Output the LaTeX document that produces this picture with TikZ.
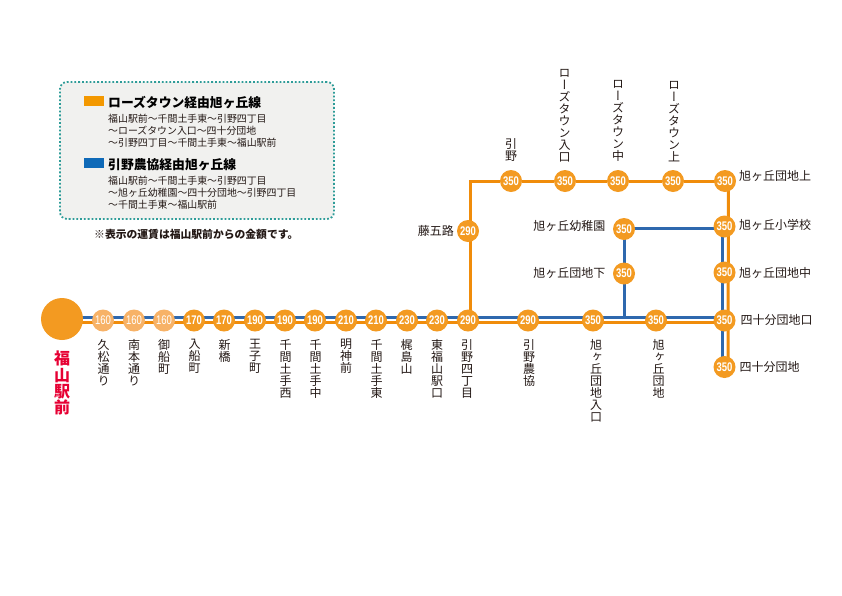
\documentclass[tikz,border=0pt]{standalone}
\usepackage{fontspec}
\usetikzlibrary{backgrounds}
\setmainfont{Noto Sans CJK JP}
\newfontfamily\cjkv[RawFeature=+vert]{Noto Sans CJK JP}
\newfontfamily\numfont[FakeStretch=0.76]{Liberation Sans}
\definecolor{stopor}{HTML}{F39A21}
\definecolor{stoplt}{HTML}{F7B267}
\definecolor{lineor}{HTML}{F08C0A}
\definecolor{lineblue}{HTML}{2E68AE}
\definecolor{legor}{HTML}{F39800}
\definecolor{legblue}{HTML}{0F6AB8}
\definecolor{legbg}{HTML}{F1F1EF}
\definecolor{legedge}{HTML}{2E9C98}
\definecolor{redtxt}{HTML}{E60033}
\definecolor{txt}{HTML}{231815}
\tikzset{
  x=1pt,y=-1pt,
  stop/.style={circle,fill=stopor,minimum size=22pt,inner sep=0pt,text=white,font=\numfont\bfseries\fontsize{12.5}{13}\selectfont},
  stoplight/.style={circle,fill=stoplt,minimum size=22pt,inner sep=0pt,text=white,font=\numfont\fontsize{12.5}{13}\selectfont},
  vlabel/.style={inner sep=0pt,align=center,text=txt,anchor=north,font=\cjkv\fontsize{12}{12}\selectfont},
  vtop/.style={vlabel,anchor=south},
  hlabel/.style={inner sep=0pt,text=txt,font=\fontsize{12}{12}\selectfont},
  orline/.style={draw=lineor,line width=3pt},
  blueline/.style={draw=lineblue,line width=3pt},
  legbody/.style={inner sep=0pt,anchor=west,text=txt,font=\fontsize{9.9}{10}\selectfont},
  legtitle/.style={inner sep=0pt,anchor=west,text=black,font=\bfseries\fontsize{12.8}{13}\selectfont},
}
\begin{document}
\begin{tikzpicture}
\useasboundingbox (0,0) rectangle (842,595);
% legend
\node[draw=legedge,fill=legbg,line width=1.8pt,dotted,rounded corners=7pt,minimum width=274pt,minimum height=137pt,inner sep=0pt] (legend) at (197,150.5) {};
\node[fill=legor,minimum width=20pt,minimum height=10pt,inner sep=0pt] (swor) at (94,101) {};
\node[fill=legblue,minimum width=20pt,minimum height=10pt,inner sep=0pt] (swbl) at (94,163) {};
\node[legtitle] (t1) at (108,103) {ローズタウン経由旭ヶ丘線};
\node[legbody] (a1) at (108,119) {福山駅前〜千間土手東〜引野四丁目};
\node[legbody] (a2) at (108,131) {〜ローズタウン入口〜四十分団地};
\node[legbody] (a3) at (108,143) {〜引野四丁目〜千間土手東〜福山駅前};
\node[legtitle] (t2) at (108,165) {引野農協経由旭ヶ丘線};
\node[legbody] (b1) at (108,180.5) {福山駅前〜千間土手東〜引野四丁目};
\node[legbody] (b2) at (108,192.5) {〜旭ヶ丘幼稚園〜四十分団地〜引野四丁目};
\node[legbody] (b3) at (108,204.5) {〜千間土手東〜福山駅前};
\node[inner sep=0pt,anchor=west,text=txt,font=\bfseries\fontsize{10.8}{11}\selectfont] (note) at (94,234) {※表示の運賃は福山駅前からの金額です。};
% stations
\node[circle,fill=stopor,minimum size=42pt,inner sep=0pt] (fuku) at (62,319) {};
\node[stoplight] (s1) at (103,320.5) {160};
\node[stoplight] (s2) at (134,320.5) {160};
\node[stoplight] (s3) at (164,320.5) {160};
\node[stop] (s4) at (194,320.5) {170};
\node[stop] (s5) at (224,320.5) {170};
\node[stop] (s6) at (255,320.5) {190};
\node[stop] (s7) at (285,320.5) {190};
\node[stop] (s8) at (315,320.5) {190};
\node[stop] (s9) at (346,320.5) {210};
\node[stop] (s10) at (376,320.5) {210};
\node[stop] (s11) at (407,320.5) {230};
\node[stop] (s12) at (437,320.5) {230};
\node[stop] (s13) at (468,320.5) {290};
\node[stop] (s14) at (528,320.5) {290};
\node[stop] (s15) at (593,320.5) {350};
\node[stop] (s16) at (656,320.5) {350};
\node[stop] (s17) at (724.5,320.5) {350};
\node[stop] (s18) at (724.5,367) {350};
\node[stop] (s19) at (724.5,272.5) {350};
\node[stop] (s20) at (724.5,226.5) {350};
\node[stop] (s21) at (725,181) {350};
\node[stop] (s22) at (673,181) {350};
\node[stop] (s23) at (618,181) {350};
\node[stop] (s24) at (565,181) {350};
\node[stop] (s25) at (511,181) {350};
\node[stop] (s26) at (468,231) {290};
\node[stop] (s27) at (624,229) {350};
\node[stop] (s28) at (624,273.5) {350};
\coordinate (corner) at (470,181);
\coordinate (junc) at (624,318);
\coordinate (bstart) at (62,317.5);
\coordinate (ostart) at (62,322.2);
\coordinate (bend) at (724,317.5);
\coordinate (oend) at (724,322.2);
\coordinate (bright) at (724,228);
\coordinate (cleft) at (624,228);
% lines
\begin{scope}[on background layer]
\draw[blueline] (bstart) -- (bend);
\draw[orline] (ostart) -- (oend);
\draw[orline] (corner |- oend) -- (corner) -- (s25) -- (s24) -- (s23) -- (s22) -- (s21.center);
\draw[orline] ([xshift=3.5pt]s21.center) -- ([xshift=3.5pt]s18.center);
\draw[blueline] ([xshift=-2pt]s20.center) -- ([xshift=-2pt]s18.center);
\draw[blueline] (bright) -- (cleft) -- (s28.center) -- (junc);
\end{scope}
% labels
\node[inner sep=0pt,align=center,anchor=north,text=redtxt,font=\bfseries\fontsize{16}{16.3}\selectfont] (lf) at (62,351) {福\\山\\駅\\前};
\node[vlabel] (l1) at (103.5,339) {久\\松\\通\\り};
\node[vlabel] (l2) at (134,339) {南\\本\\通\\り};
\node[vlabel] (l3) at (164,339) {御\\船\\町};
\node[vlabel] (l4) at (194.5,339) {入\\船\\町};
\node[vlabel] (l5) at (224.5,339) {新\\橋};
\node[vlabel] (l6) at (255,339) {王\\子\\町};
\node[vlabel] (l7) at (285.5,339) {千\\間\\土\\手\\西};
\node[vlabel] (l8) at (315.5,339) {千\\間\\土\\手\\中};
\node[vlabel] (l9) at (346,339) {明\\神\\前};
\node[vlabel] (l10) at (376.5,339) {千\\間\\土\\手\\東};
\node[vlabel] (l11) at (406.5,339) {梶\\島\\山};
\node[vlabel] (l12) at (437,339) {東\\福\\山\\駅\\口};
\node[vlabel] (l13) at (467,339) {引\\野\\四\\丁\\目};
\node[vlabel] (l14) at (529,339) {引\\野\\農\\協};
\node[vlabel] (l15) at (596,339) {旭\\ヶ\\丘\\団\\地\\入\\口};
\node[vlabel] (l16) at (658.5,339) {旭\\ヶ\\丘\\団\\地};
\node[vtop] (l25) at (511,162) {引\\野};
\node[vtop] (l24) at (564.5,162) {ロ\\ー\\ズ\\タ\\ウ\\ン\\入\\口};
\node[vtop] (l23) at (618,162) {ロ\\ー\\ズ\\タ\\ウ\\ン\\中};
\node[vtop] (l22) at (674,162) {ロ\\ー\\ズ\\タ\\ウ\\ン\\上};
\node[hlabel,anchor=west] (l21) at (739,175.5) {旭ヶ丘団地上};
\node[hlabel,anchor=west] (l20) at (739,225) {旭ヶ丘小学校};
\node[hlabel,anchor=west] (l19) at (739,272.5) {旭ヶ丘団地中};
\node[hlabel,anchor=west] (l17) at (740.5,320) {四十分団地口};
\node[hlabel,anchor=west] (l18) at (739.5,367) {四十分団地};
\node[hlabel,anchor=east] (l26) at (454,231) {藤五路};
\node[hlabel,anchor=east] (l27) at (605.5,226) {旭ヶ丘幼稚園};
\node[hlabel,anchor=east] (l28) at (605.5,272.5) {旭ヶ丘団地下};
\end{tikzpicture}
\end{document}
